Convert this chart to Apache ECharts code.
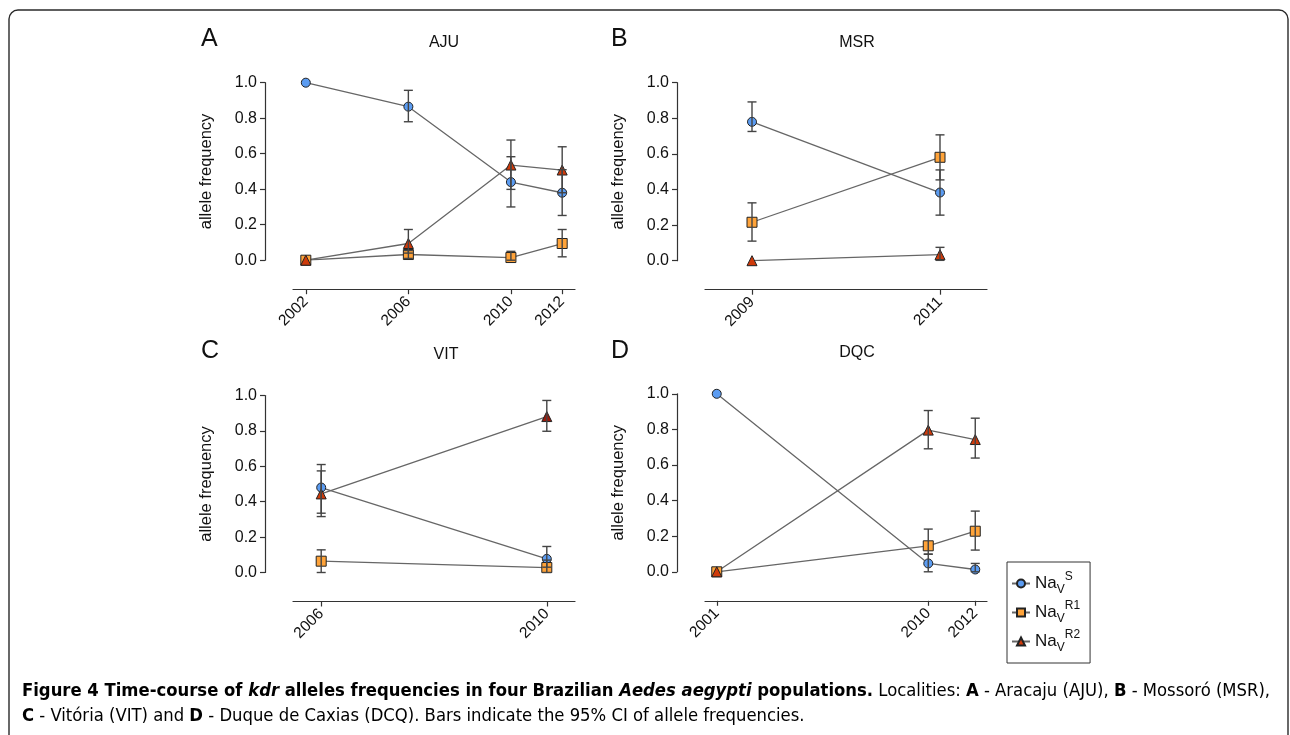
<!DOCTYPE html>
<html><head><meta charset="utf-8">
<script src="https://cdn.jsdelivr.net/npm/echarts@6/dist/echarts.min.js"></script>
<style>html,body{margin:0;padding:0;background:#fff}#c{width:1290px;height:735px}</style>
</head><body><div id="c"></div>
<script>
// ---- data ----
const ajuYears = [2002, 2006, 2010, 2012];
const ajuS   = [1.0, 0.865, 0.44, 0.38];
const ajuSLo = [null, 0.78, 0.30, 0.252];
const ajuSHi = [null, 0.957, 0.583, 0.51];
const ajuR1   = [0, 0.032, 0.015, 0.094];
const ajuR1Lo = [null, 0.01, 0.0, 0.019];
const ajuR1Hi = [null, 0.055, 0.05, 0.173];
const ajuR2   = [0, 0.094, 0.536, 0.508];
const ajuR2Lo = [null, 0.04, 0.399, 0.38];
const ajuR2Hi = [null, 0.173, 0.677, 0.639];

const msrYears = [2009, 2011];
const msrS   = [0.78, 0.383];
const msrSLo = [0.726, 0.256];
const msrSHi = [0.892, 0.51];
const msrR1   = [0.216, 0.581];
const msrR1Lo = [0.11, 0.454];
const msrR1Hi = [0.325, 0.707];
const msrR2   = [0, 0.034];
const msrR2Lo = [null, 0.002];
const msrR2Hi = [null, 0.075];

const vitYears = [2006, 2010];
const vitS   = [0.48, 0.077];
const vitSLo = [0.335, 0.03];
const vitSHi = [0.61, 0.147];
const vitR1   = [0.064, 0.028];
const vitR1Lo = [0.0, 0.0];
const vitR1Hi = [0.128, 0.07];
const vitR2   = [0.444, 0.881];
const vitR2Lo = [0.316, 0.798];
const vitR2Hi = [0.574, 0.972];

const dqcYears = [2001, 2010, 2012];
const dqcS   = [1.0, 0.047, 0.013];
const dqcSLo = [null, 0.0, 0.0];
const dqcSHi = [null, 0.099, 0.047];
const dqcR1   = [0, 0.146, 0.228];
const dqcR1Lo = [null, 0.099, 0.122];
const dqcR1Hi = [null, 0.24, 0.341];
const dqcR2   = [0, 0.796, 0.743];
const dqcR2Lo = [null, 0.691, 0.639];
const dqcR2Hi = [null, 0.906, 0.863];

const seriesNames = ['S', 'R1', 'R2'];
const panelLetters = ['A', 'B', 'C', 'D'];
const panelTitles = ['AJU', 'MSR', 'VIT', 'DQC'];

// ---- layout / style ----
const FONT = '"Liberation Sans", Arial, Helvetica, sans-serif';
const panels = [
  {years: ajuYears, vals: [ajuS, ajuR1, ajuR2], lo: [ajuSLo, ajuR1Lo, ajuR2Lo], hi: [ajuSHi, ajuR1Hi, ajuR2Hi],
   grid: {left: 293, top: 82.7, width: 282, height: 177.5}, letterPos: [201, 39], titlePos: [444, 43]},
  {years: msrYears, vals: [msrS, msrR1, msrR2], lo: [msrSLo, msrR1Lo, msrR2Lo], hi: [msrSHi, msrR1Hi, msrR2Hi],
   grid: {left: 705, top: 82.7, width: 282, height: 178}, letterPos: [611, 39], titlePos: [857, 43]},
  {years: vitYears, vals: [vitS, vitR1, vitR2], lo: [vitSLo, vitR1Lo, vitR2Lo], hi: [vitSHi, vitR1Hi, vitR2Hi],
   grid: {left: 293, top: 395.5, width: 282, height: 177}, letterPos: [201, 351], titlePos: [446, 355]},
  {years: dqcYears, vals: [dqcS, dqcR1, dqcR2], lo: [dqcSLo, dqcR1Lo, dqcR2Lo], hi: [dqcSHi, dqcR1Hi, dqcR2Hi],
   grid: {left: 705, top: 393.8, width: 282, height: 178}, letterPos: [611, 351], titlePos: [857, 353]}
];
const sym = {S: 'circle', R1: 'rect', R2: 'triangle'};
const col = {S: '#5b9cf2', R1: '#ffa339', R2: '#cf3a0a'};
const symSize = {S: 9, R1: 10, R2: 10};

const grids = [], xAxes = [], yAxes = [], series = [], graphics = [];

graphics.push({type: 'rect', silent: true, z: 100,
  shape: {x: 9, y: 10, width: 1279, height: 760, r: [9, 9, 0, 0]},
  style: {fill: null, stroke: '#2a2a2a', lineWidth: 1.4}});

panels.forEach((p, i) => {
  grids.push(Object.assign({containLabel: false}, p.grid));
  const yMin = p.years[0], yMax = p.years[p.years.length - 1];
  xAxes.push({
    gridIndex: i, type: 'value', min: yMin - 0.5, max: yMax + 0.5, offset: 29,
    splitLine: {show: false},
    axisLine: {show: true, onZero: false, lineStyle: {color: '#333', width: 1.2}},
    axisTick: {show: true, customValues: p.years, length: 5, lineStyle: {color: '#333', width: 1.2}},
    axisLabel: {customValues: p.years, rotate: 45, fontSize: 15.5, color: '#111', margin: 10, fontFamily: FONT,
      formatter: v => String(Math.round(v))}
  });
  yAxes.push({
    gridIndex: i, type: 'value', min: 0, max: 1, interval: 0.2, offset: 28,
    name: 'allele frequency', nameLocation: 'middle', nameRotate: 90, nameGap: 50,
    nameTextStyle: {fontSize: 16.5, color: '#111', fontFamily: FONT},
    splitLine: {show: false},
    axisLine: {show: true, onZero: false, lineStyle: {color: '#333', width: 1.2}},
    axisTick: {show: true, length: 5, lineStyle: {color: '#333', width: 1.2}},
    axisLabel: {fontSize: 16, color: '#111', margin: 8, fontFamily: FONT, formatter: v => v.toFixed(1)}
  });
  seriesNames.forEach((n, k) => {
    const data = p.years.map((yr, j) => {
      const item = {value: [yr, p.vals[k][j]]};
      if (i === 2 && n === 'R2' && j === 1) item.itemStyle = {color: '#9a1a0c'};
      return item;
    });
    series.push({
      name: n, type: 'line', xAxisIndex: i, yAxisIndex: i, data: data,
      symbol: sym[n], symbolSize: symSize[n], showAllSymbol: true, z: 3,
      lineStyle: {color: '#666', width: 1.3},
      itemStyle: {color: col[n], borderColor: '#222', borderWidth: 1},
      emphasis: {disabled: true}, animation: false
    });
  });
  const ebData = [];
  seriesNames.forEach((n, k) => {
    p.years.forEach((yr, j) => {
      if (p.lo[k][j] != null && p.hi[k][j] != null) ebData.push([yr, p.lo[k][j], p.hi[k][j]]);
    });
  });
  series.push({
    name: 'ci' + i, type: 'custom', xAxisIndex: i, yAxisIndex: i, data: ebData, z: 4, silent: true,
    animation: false,
    renderItem: (params, api) => {
      const x = api.value(0);
      const a = api.coord([x, api.value(1)]);
      const b = api.coord([x, api.value(2)]);
      const w = 4.5;
      const st = {stroke: '#444', lineWidth: 1.4};
      return {type: 'group', children: [
        {type: 'line', shape: {x1: a[0], y1: a[1], x2: b[0], y2: b[1]}, style: st},
        {type: 'line', shape: {x1: a[0] - w, y1: a[1], x2: a[0] + w, y2: a[1]}, style: st},
        {type: 'line', shape: {x1: b[0] - w, y1: b[1], x2: b[0] + w, y2: b[1]}, style: st}
      ]};
    }
  });
  graphics.push({type: 'text', x: p.letterPos[0], y: p.letterPos[1],
    style: {text: panelLetters[i], fontSize: 25, fill: '#111', fontFamily: FONT, verticalAlign: 'middle', align: 'left'}});
  graphics.push({type: 'text', x: p.titlePos[0], y: p.titlePos[1],
    style: {text: panelTitles[i], fontSize: 16, fill: '#111', fontFamily: FONT, verticalAlign: 'middle', align: 'center'}});
});

// caption
const CAP = '"Liberation Sans Narrow", "DejaVu Sans Condensed", "Liberation Sans", sans-serif';
const CS = 18.3;
const capRich = {
  bo: {fontFamily: CAP, fontSize: CS, fontWeight: 'bold', color: '#1e1e1e'},
  bi: {fontFamily: CAP, fontSize: CS, fontWeight: 'bold', fontStyle: 'italic', color: '#1e1e1e'},
  r:  {fontFamily: CAP, fontSize: CS, color: '#555'}
};
graphics.push({type: 'text', x: 22, y: 691, style: {
  text: '{bo|Figure 4 Time-course of }{bi|kdr}{bo| alleles frequencies in four Brazilian }{bi|Aedes aegypti}{bo| populations.}{r| Localities: }{bo|A}{r| - Aracaju (AJU), }{bo|B}{r| - Mossoró (MSR),}',
  rich: capRich, verticalAlign: 'middle', fontFamily: CAP, fontSize: CS}});
graphics.push({type: 'text', x: 22, y: 716, style: {
  text: '{bo|C}{r| - Vitória (VIT) and }{bo|D}{r| - Duque de Caxias (DCQ). Bars indicate the 95% CI of allele frequencies.}',
  rich: capRich, verticalAlign: 'middle', fontFamily: CAP, fontSize: CS}});

const supText = {S: 'S', R1: 'R1', R2: 'R2'};
const chart = echarts.init(document.getElementById('c'), null, {renderer: 'canvas'});
chart.setOption({
  animation: false,
  backgroundColor: '#fff',
  grid: grids, xAxis: xAxes, yAxis: yAxes, series: series, graphic: graphics,
  legend: {
    data: seriesNames, orient: 'vertical', left: 1007, top: 562,
    padding: [9, 10, 9, 4], itemGap: 4, itemWidth: 18, itemHeight: 10,
    borderColor: '#333', borderWidth: 1, selectedMode: false,
    formatter: n => '{b|Na}{sub|V}{sup|' + supText[n] + '}',
    textStyle: {fontFamily: FONT, color: '#111', rich: {
      b: {fontSize: 17, lineHeight: 25, verticalAlign: 'middle', fontFamily: FONT, color: '#111'},
      sub: {fontSize: 12, lineHeight: 12, verticalAlign: 'bottom', fontFamily: FONT, color: '#111'},
      sup: {fontSize: 12, lineHeight: 12, verticalAlign: 'top', fontFamily: FONT, color: '#111'}
    }}
  }
});
</script></body></html>
